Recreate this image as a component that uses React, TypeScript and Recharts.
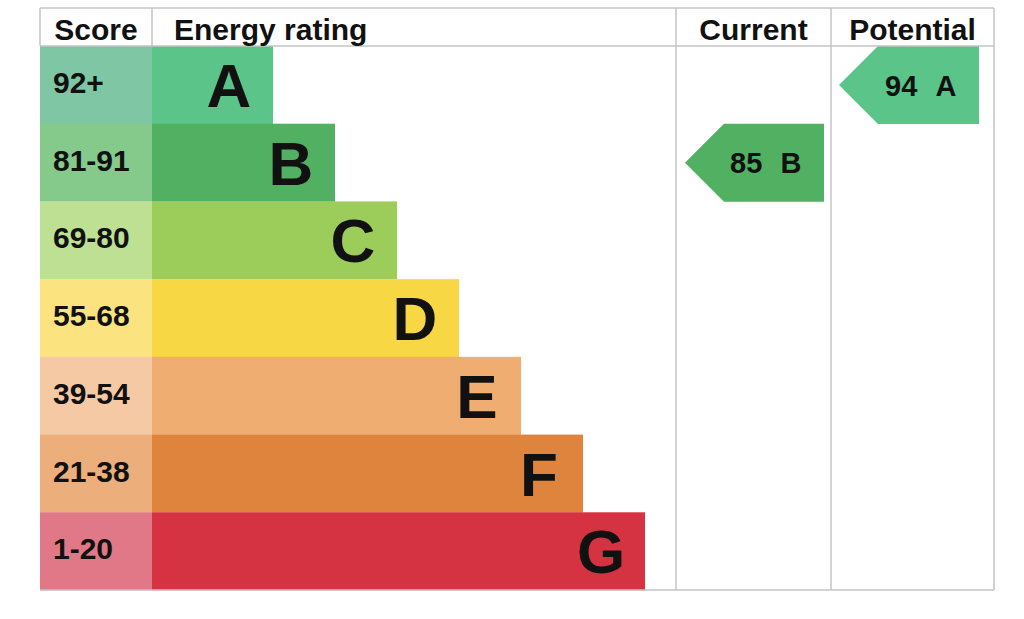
import { Bar, BarChart, ReferenceLine, XAxis, YAxis } from "recharts";

// EPC bands, top (best) to bottom (worst)
const bands = ["A", "B", "C", "D", "E", "F", "G"];
const scoreRanges = ["92+", "81-91", "69-80", "55-68", "39-54", "21-38", "1-20"];
// length of each rating bar, in table units (table is 954 units wide)
const barLengths = [121, 183, 245, 307, 369, 431, 493];
const headers = ["Score", "Energy rating", "Current", "Potential"];
const currentRating = { score: 85, band: "B" };
const potentialRating = { score: 94, band: "A" };

const bandColors = ["#5ac489", "#52b062", "#9ccc5a", "#f8d745", "#efad71", "#de843c", "#d53242"];
const scoreColors = ["#7fc6a4", "#85c98b", "#bee092", "#fbe480", "#f5c9a4", "#ecae7a", "#e17888"];

const TABLE_W = 954;
const COL_EDGES = [0, 112, 636, 791, TABLE_W];
const HEADER_H = 38;
const LINE = "#c4c4c4";
const INK = "#111111";
const FONT = "'Liberation Sans', Arial, Helvetica, sans-serif";

const headerAnchors = headers.map((_, i) =>
  i === 1 ? COL_EDGES[1] + 22 : (COL_EDGES[i] + COL_EDGES[i + 1]) / 2
);
const headerTicks = [...COL_EDGES, ...headerAnchors];

const rows = bands.map((band, i) => ({
  band,
  score: scoreRanges[i],
  scoreW: COL_EDGES[1],
  bar: barLengths[i],
  current: band === currentRating.band ? [COL_EDGES[2] + 9, COL_EDGES[3] - 7] : null,
  potential: band === potentialRating.band ? [COL_EDGES[3] + 8, COL_EDGES[4] - 15] : null,
}));

function HeaderTick(props: any) {
  const { x, y, payload } = props;
  const v = payload.value;
  if (COL_EDGES.includes(v)) {
    return <line x1={x} x2={x} y1={y + 6} y2={y + 6 - HEADER_H} stroke={LINE} strokeWidth={1.5} />;
  }
  const i = headerAnchors.indexOf(v);
  return (
    <text
      x={x}
      y={y}
      textAnchor={i === 1 ? "start" : "middle"}
      fontSize={30}
      fontWeight="bold"
      fontFamily={FONT}
      fill={INK}
    >
      {headers[i]}
    </text>
  );
}

function ScoreCell(props: any) {
  const { x, y, width, height, payload } = props;
  const i = bands.indexOf(payload.band);
  return (
    <g>
      <rect x={x} y={y} width={width} height={height} fill={scoreColors[i]} />
      <text x={x + 13} y={y + height / 2 + 8} fontSize={30} fontWeight="bold" fontFamily={FONT} fill={INK}>
        {payload.score}
      </text>
    </g>
  );
}

function RatingBar(props: any) {
  const { x, y, width, height, payload } = props;
  const i = bands.indexOf(payload.band);
  return (
    <g>
      <rect x={x} y={y} width={width} height={height} fill={bandColors[i]} />
      <text
        x={x + width - 44}
        y={y + height / 2 + 22}
        textAnchor="middle"
        fontSize={62}
        fontWeight="bold"
        fontFamily={FONT}
        fill={INK}
      >
        {payload.band}
      </text>
    </g>
  );
}

const makeArrow = (rating: { score: number; band: string }) =>
  function Arrow(props: any) {
    const { x, y, width, height } = props;
    if (!width || !height) return null;
    const tip = height / 2;
    const right = x + width;
    const pts = [
      [x, y + height / 2],
      [x + tip, y],
      [right, y],
      [right, y + height],
      [x + tip, y + height],
    ]
      .map((p) => p.join(","))
      .join(" ");
    const base = y + height / 2 + 10.5;
    return (
      <g>
        <polygon points={pts} fill={bandColors[bands.indexOf(rating.band)]} />
        <text x={right - 94} y={base} fontSize={29} fontWeight="bold" fontFamily={FONT} fill={INK}>
          {rating.score}
        </text>
        <text x={right - 33} y={base} textAnchor="middle" fontSize={29} fontWeight="bold" fontFamily={FONT} fill={INK}>
          {rating.band}
        </text>
      </g>
    );
  };

const CurrentArrow = makeArrow(currentRating);
const PotentialArrow = makeArrow(potentialRating);

export default function App() {
  return (
    <div style={{ position: "absolute", left: 0, top: 0, background: "#fff" }}>
      <BarChart
        width={1024}
        height={619}
        data={rows}
        layout="vertical"
        margin={{ top: 7, right: 30, bottom: 28, left: 40 }}
        barCategoryGap={0}
        barGap={0}
      >
        {/* outer top border of the table */}
        <XAxis
          xAxisId="axisB"
          orientation="top"
          type="number"
          domain={[0, TABLE_W]}
          allowDataOverflow
          height={1}
          tick={false}
          tickLine={false}
          axisLine={{ stroke: LINE, strokeWidth: 1.5 }}
        />
        {/* header row: column titles and separators */}
        <XAxis
          xAxisId="axisA"
          orientation="top"
          type="number"
          domain={[0, TABLE_W]}
          allowDataOverflow
          ticks={headerTicks}
          interval={0}
          height={HEADER_H}
          tickSize={0}
          tickMargin={6}
          tickLine={false}
          axisLine={{ stroke: LINE, strokeWidth: 1.5 }}
          tick={HeaderTick}
        />
        <XAxis
          xAxisId={0}
          orientation="bottom"
          type="number"
          domain={[0, TABLE_W]}
          allowDataOverflow
          height={1}
          tick={false}
          tickLine={false}
          axisLine={{ stroke: LINE, strokeWidth: 1.5 }}
        />
        <YAxis yAxisId="rows" type="category" dataKey="band" hide />
        <YAxis yAxisId="cur" type="category" dataKey="band" hide />
        <YAxis yAxisId="pot" type="category" dataKey="band" hide />
        {COL_EDGES.slice(2).map((e) => (
          <ReferenceLine key={e} yAxisId="rows" x={e} stroke={LINE} strokeWidth={1.5} />
        ))}
        <Bar yAxisId="rows" dataKey="scoreW" stackId="row" shape={ScoreCell} isAnimationActive={false} />
        <Bar yAxisId="rows" dataKey="bar" stackId="row" shape={RatingBar} isAnimationActive={false} />
        <Bar yAxisId="cur" dataKey="current" shape={CurrentArrow} isAnimationActive={false} />
        <Bar yAxisId="pot" dataKey="potential" shape={PotentialArrow} isAnimationActive={false} />
      </BarChart>
    </div>
  );
}
